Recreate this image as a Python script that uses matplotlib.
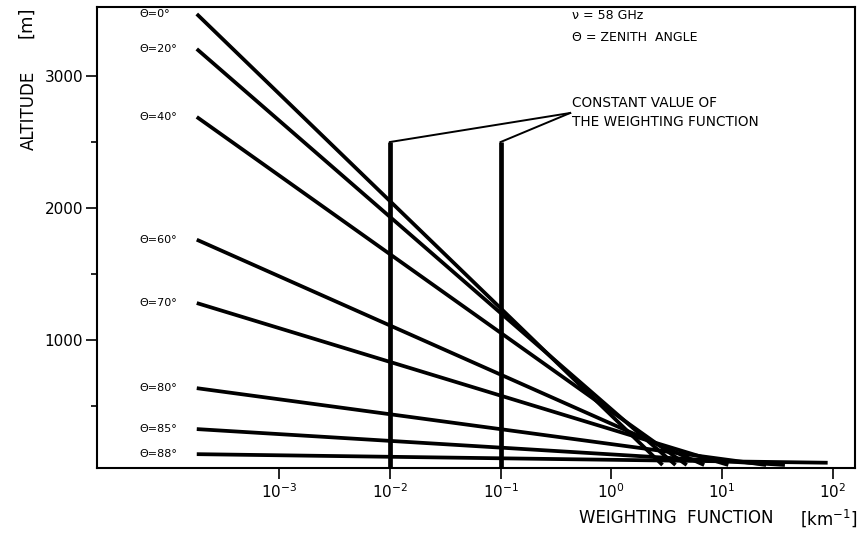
# altitude of the 58 GHz weighting function for several zenith angles

import matplotlib.pyplot as plt
from matplotlib.ticker import NullLocator

# zenith angles [deg] and the straight segments drawn for each one
angles = [0, 20, 40, 60, 70, 80, 85, 88]
w_start = [1.8e-4, 1.8e-4, 1.8e-4, 1.8e-4, 1.8e-4, 1.8e-4, 1.8e-4, 1.8e-4]   # [1/km]
h_start = [3470, 3205, 2690, 1760, 1280, 635, 325, 135]                    # [m]
w_end = [2.9, 3.8, 4.8, 6.9, 11.4, 25.0, 37.0, 90.0]
h_end = [53, 53, 53, 53, 53, 53, 53, 70]

# constant values of the weighting function
w_const = [1e-2, 1e-1]
h_const_top = 2500

xticks = [1e-3, 1e-2, 1e-1, 1e0, 1e1, 1e2]
xtick_labels = [r'$10^{-3}$', r'$10^{-2}$', r'$10^{-1}$', r'$10^{0}$', r'$10^{1}$', r'$10^{2}$']
yticks = [1000, 2000, 3000]
yticks_minor = [500, 1500, 2500]

fig = plt.figure(figsize=(8.6, 5.35), dpi=100)
ax = fig.add_axes([0.1128, 0.1252, 0.8814, 0.8617])
ax.set_xscale('log')
ax.set_xlim(2.26e-5, 159)
ax.set_ylim(30, 3523)

for a, w0, h0, w1, h1 in zip(angles, w_start, h_start, w_end, h_end):
    ax.plot([w0, w1], [h0, h1], color='black', lw=2.7, solid_capstyle='butt')
    ax.text(5.5e-5, h0, 'Θ=%d°' % a, fontsize=8, ha='left', va='center')

for w in w_const:
    ax.plot([w, w], [30, h_const_top], color='black', lw=3.4, solid_capstyle='butt')
    ax.plot([w, 0.425], [h_const_top, 2720], color='black', lw=1.4)

ax.text(0.44, 2795, 'CONSTANT VALUE OF', fontsize=9.8, ha='left', va='center')
ax.text(0.44, 2650, 'THE WEIGHTING FUNCTION', fontsize=9.8, ha='left', va='center')
ax.text(0.44, 3455, 'ν = 58 GHz', fontsize=9, ha='left', va='center')
ax.text(0.44, 3295, 'Θ = ZENITH  ANGLE', fontsize=9, ha='left', va='center')

ax.set_xticks(xticks)
ax.set_xticklabels(xtick_labels)
ax.xaxis.set_minor_locator(NullLocator())
ax.set_yticks(yticks)
ax.set_yticks(yticks_minor, minor=True)
ax.tick_params(which='major', direction='out', length=8, width=1.2, labelsize=11, pad=2)
ax.tick_params(which='minor', direction='out', length=4, width=1.2)
for s in ax.spines.values():
    s.set_linewidth(1.5)

fig.text(0.033, 0.794, 'ALTITUDE', rotation=90, fontsize=12, ha='center', va='center')
fig.text(0.031, 0.958, '[m]', rotation=90, fontsize=13, ha='center', va='center')
fig.text(0.786, 0.032, 'WEIGHTING  FUNCTION', fontsize=12, ha='center', va='center')
fig.text(0.964, 0.032, r'$\left[\mathrm{km}^{-1}\right]$', fontsize=12, ha='center', va='center')

fig.savefig('out.png', dpi=100)
